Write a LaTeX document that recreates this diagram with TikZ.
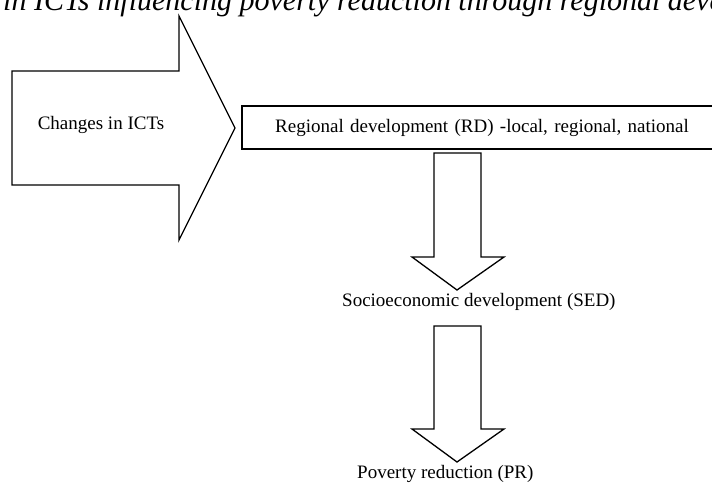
\documentclass[tikz,border=0pt]{standalone}
\usepackage{fontspec}
\setmainfont{Liberation Serif}
\usetikzlibrary{positioning}

\begin{document}
\begin{tikzpicture}[x=1pt, y=-1pt,
    blockarrow/.style={draw, line width=1.3pt, line join=miter},
    stage/.style={font=\fontsize{19}{22}\selectfont, inner sep=0pt},
    box/.style={draw, line width=1.3pt, minimum width=474pt,
                minimum height=43pt, font=\fontsize{19}{22}\selectfont},
  ]
    \useasboundingbox (0,0) rectangle (712,483);
    \clip (0,0) rectangle (712,483);

    % caption line, cut off by the page
    \node[font=\fontsize{30}{34}\selectfont\itshape, anchor=base west, inner sep=0pt]
      (caption) at (3,10) {in ICTs influencing poverty reduction through regional development};

    % big arrow
    \draw[blockarrow] (12,71) -- (179,71) -- (179,16) -- (235,128)
      -- (179,240) -- (179,185) -- (12,185) -- cycle;
    \node[stage] (ict) at (101,125) {Changes in ICTs};

    \node[box, text width=474pt, align=center, inner xsep=0pt]
      (rd) at (479,127.5) {\hspace*{6pt}Regional development (RD) -local, regional, national};

    % down arrows
    \foreach \t/\b in {153/257, 326/429}
      \draw[blockarrow] (434,\t) -- (481,\t) -- (481,\b) -- (504,\b)
        -- (457,\b+33) -- (412,\b) -- (434,\b) -- cycle;

    \node[stage, anchor=west] (sed) at (342,302) {Socioeconomic development (SED)};
    \node[stage, anchor=west] (pr)  at (357,474) {Poverty reduction (PR)};
  \end{tikzpicture}
\end{document}
